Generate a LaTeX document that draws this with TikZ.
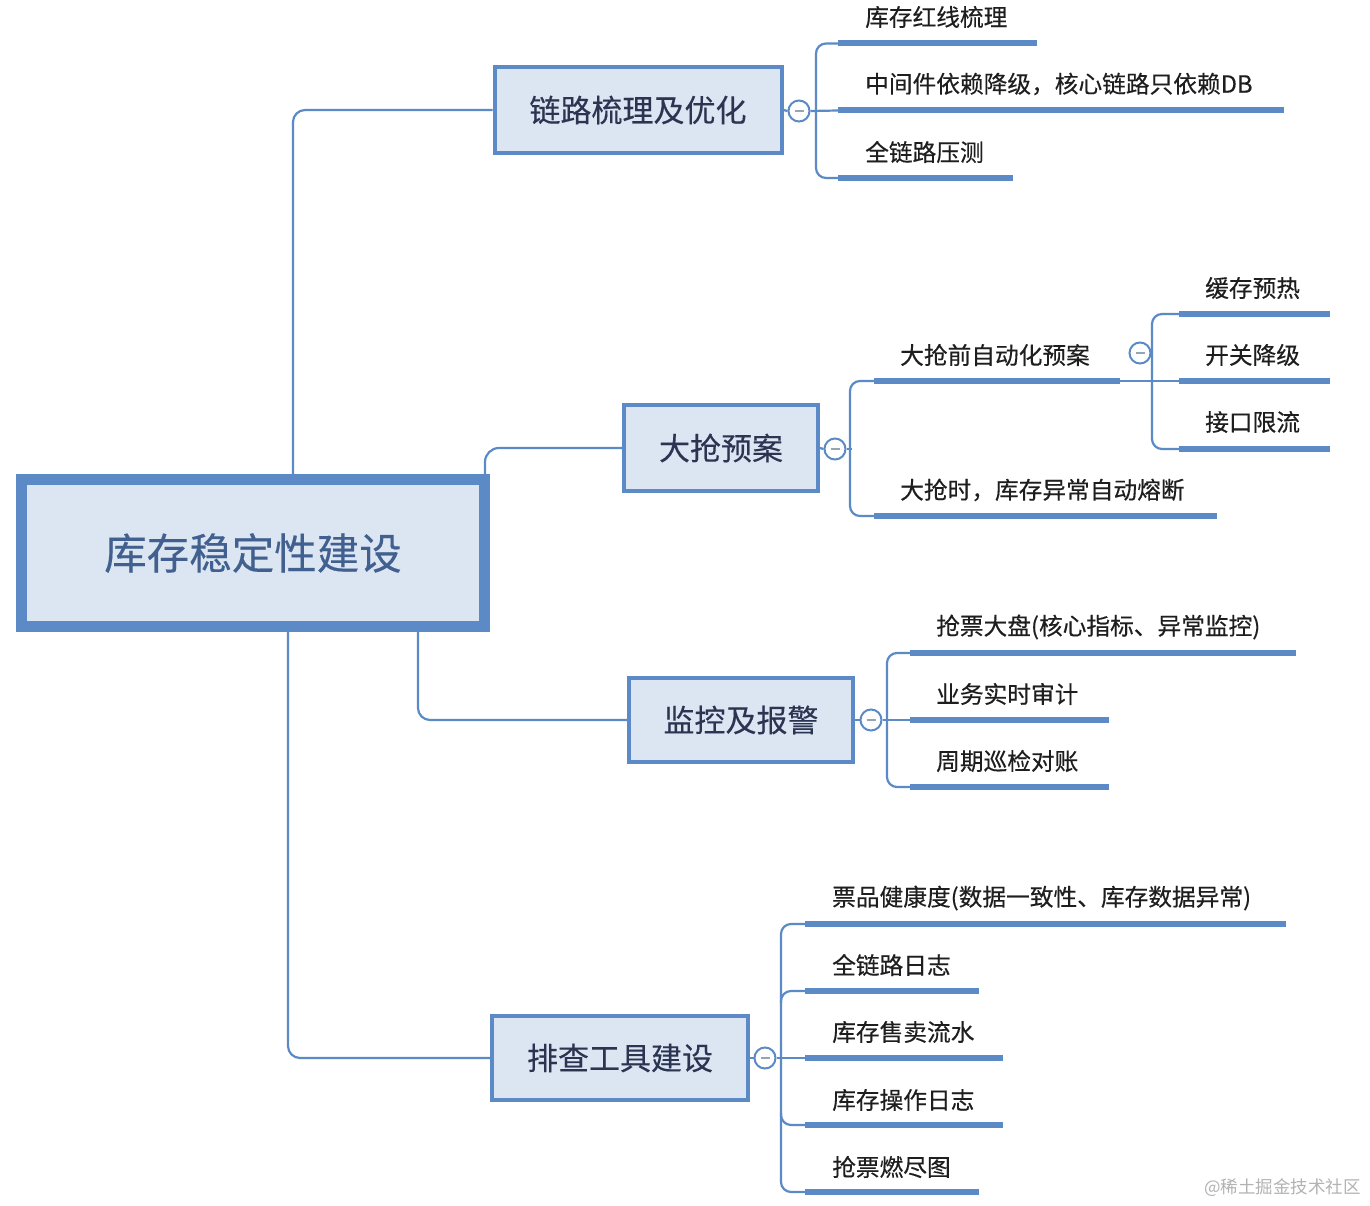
\documentclass[tikz,border=0pt]{standalone}
\usepackage{fontspec}
\setmainfont{Noto Sans CJK SC}
\newfontfamily\leaffont[FakeBold=0.4]{Noto Sans CJK SC}
\newfontfamily\boxfont[FakeBold=0.3]{Noto Sans CJK SC}
\definecolor{lineblue}{HTML}{5B8AC6}
\definecolor{boxfill}{HTML}{DCE6F2}
\definecolor{roottext}{HTML}{41608F}
\definecolor{branchtext}{HTML}{2B3552}
\definecolor{leaftext}{HTML}{1E1E1E}
\definecolor{minusgray}{HTML}{9AA3B0}
\tikzset{
  conn/.style={draw=lineblue, line width=2.2pt, rounded corners=12pt},
  uline/.style={draw=lineblue, line width=6pt},
  rootbox/.style={draw=lineblue, fill=boxfill, line width=11pt, inner sep=0pt,
    text=roottext, font=\boxfont\fontsize{42.5}{46}\selectfont},
  branchbox/.style={draw=lineblue, fill=boxfill, line width=4pt, inner sep=0pt,
    text=branchtext, font=\boxfont\fontsize{31}{34}\selectfont},
  leaf/.style={anchor=west, inner sep=0pt, text=leaftext, font=\leaffont\fontsize{23.7}{27}\selectfont},
  knob/.style={circle, draw=lineblue, fill=white, line width=2pt, minimum size=21pt, inner sep=0pt,
    path picture={\draw[minusgray, line width=1.6pt]
      ([xshift=-4.5pt]path picture bounding box.center) -- ([xshift=4.5pt]path picture bounding box.center);}},
}
\begin{document}
\begin{tikzpicture}[x=1pt, y=-1pt]
\useasboundingbox (0,0) rectangle (1370,1206);

% root
\node[rootbox, minimum width=463pt, minimum height=147pt] (root) at (253,553) {库存稳定性建设};

% branches
\node[branchbox, minimum width=287pt, minimum height=86pt] (b1) at (638,110) {链路梳理及优化};
\node[branchbox, minimum width=194pt, minimum height=86pt] (b2) at (721,448) {大抢预案};
\node[branchbox, minimum width=224pt, minimum height=84pt] (b3) at (741,720) {监控及报警};
\node[branchbox, minimum width=256pt, minimum height=84pt] (b4) at (620,1058) {排查工具建设};

% root connectors
\coordinate (r1) at (293,474);
\coordinate (r2) at (485,474);
\coordinate (r3) at (418,632);
\coordinate (r4) at (288,632);
\draw[conn] (r1) |- (b1.west);
\draw[conn, rounded corners=14pt] (r2) |- (b2.west);
\draw[conn] (r3) |- (b3.west);
\draw[conn] (r4) |- (b4.west);

% knobs
\node[knob] (k1) at (799,111) {};
\node[knob] (k2) at (835,449) {};
\node[knob] (k3) at (871,720) {};
\node[knob] (k4) at (765,1058) {};
\node[knob] (k21) at (1140,353) {};

\draw[conn] (b1.east) -- (k1.west);
\draw[conn] (b2.east) -- (k2.west);
\draw[conn] (b3.east) -- (k3.west);
\draw[conn] (b4.east) -- (k4.west);

% ---------- branch 1 leaves
\node[leaf] (l11) at (865,17) {库存红线梳理};
\node[leaf] (l12) at (865,84) {中间件依赖降级，核心链路只依赖DB};
\node[leaf] (l13) at (865,152) {全链路压测};
\coordinate (u11a) at (838,43.5);  \coordinate (u11b) at (1037,43.5);
\coordinate (u12a) at (838,110.5); \coordinate (u12b) at (1284,110.5);
\coordinate (u13a) at (838,178); \coordinate (u13b) at (1013,178);
\draw[uline] (u11a) -- (u11b);
\draw[uline] (u12a) -- (u12b);
\draw[uline] (u13a) -- (u13b);
\draw[conn, rounded corners=10pt] (u11a) -- ++(-22,0) |- (u13a);
\draw[conn] (k1.east) -- (u12a);

% ---------- branch 2 leaves
\node[leaf] (l21) at (900,355) {大抢前自动化预案};
\node[leaf] (l22) at (900,490) {大抢时，库存异常自动熔断};
\coordinate (u21a) at (874,381); \coordinate (u21b) at (1120,381);
\coordinate (u22a) at (874,516); \coordinate (u22b) at (1217,516);
\draw[uline] (u21a) -- (u21b);
\draw[uline] (u22a) -- (u22b);
\draw[conn, rounded corners=10pt] (u21a) -- ++(-24,0) |- (u22a);
\draw[conn] (k2.east) -- ++(5,0);

% sub-leaves
\node[leaf] (l211) at (1205,288) {缓存预热};
\node[leaf] (l212) at (1205,355) {开关降级};
\node[leaf] (l213) at (1205,422) {接口限流};
\coordinate (u211a) at (1179,314); \coordinate (u211b) at (1330,314);
\coordinate (u212a) at (1179,381); \coordinate (u212b) at (1330,381);
\coordinate (u213a) at (1179,449); \coordinate (u213b) at (1330,449);
\draw[uline] (u211a) -- (u211b);
\draw[uline] (u212a) -- (u212b);
\draw[uline] (u213a) -- (u213b);
\draw[conn, rounded corners=10pt] (u211a) -- ++(-27,0) |- (u213a);
\draw[conn] (u21b) -- (u212a);

% ---------- branch 3 leaves
\node[leaf] (l31) at (936,627) {抢票大盘(核心指标、异常监控)};
\node[leaf] (l32) at (936,694) {业务实时审计};
\node[leaf] (l33) at (936,761) {周期巡检对账};
\coordinate (u31a) at (910,653); \coordinate (u31b) at (1296,653);
\coordinate (u32a) at (910,720); \coordinate (u32b) at (1109,720);
\coordinate (u33a) at (910,787); \coordinate (u33b) at (1109,787);
\draw[uline] (u31a) -- (u31b);
\draw[uline] (u32a) -- (u32b);
\draw[uline] (u33a) -- (u33b);
\draw[conn, rounded corners=10pt] (u31a) -- ++(-23,0) |- (u33a);
\draw[conn] (k3.east) -- (u32a);

% ---------- branch 4 leaves
\node[leaf] (l41) at (832,898) {票品健康度(数据一致性、库存数据异常)};
\node[leaf] (l42) at (832,965) {全链路日志};
\node[leaf] (l43) at (832,1032) {库存售卖流水};
\node[leaf] (l44) at (832,1100) {库存操作日志};
\node[leaf] (l45) at (832,1167) {抢票燃尽图};
\coordinate (u41a) at (805,924);  \coordinate (u41b) at (1286,924);
\coordinate (u42a) at (805,991);  \coordinate (u42b) at (979,991);
\coordinate (u43a) at (805,1058); \coordinate (u43b) at (1003,1058);
\coordinate (u44a) at (805,1125); \coordinate (u44b) at (1003,1125);
\coordinate (u45a) at (805,1192); \coordinate (u45b) at (979,1192);
\draw[uline] (u41a) -- (u41b);
\draw[uline] (u42a) -- (u42b);
\draw[uline] (u43a) -- (u43b);
\draw[uline] (u44a) -- (u44b);
\draw[uline] (u45a) -- (u45b);
\draw[conn, rounded corners=10pt] (u41a) -- ++(-24,0) |- (u45a);
\draw[conn, rounded corners=10pt] (u42a) -- ++(-24,0) -- ++(0,12);
\draw[conn, rounded corners=10pt] (u44a) -- ++(-24,0) -- ++(0,-12);
\draw[conn] (k4.east) -- (u43a);

% watermark
\node[anchor=west, inner sep=0pt, text=black!30, font=\fontsize{17.5}{20}\selectfont] (wm) at (1204,1188) {@稀土掘金技术社区};
\end{tikzpicture}
\end{document}
